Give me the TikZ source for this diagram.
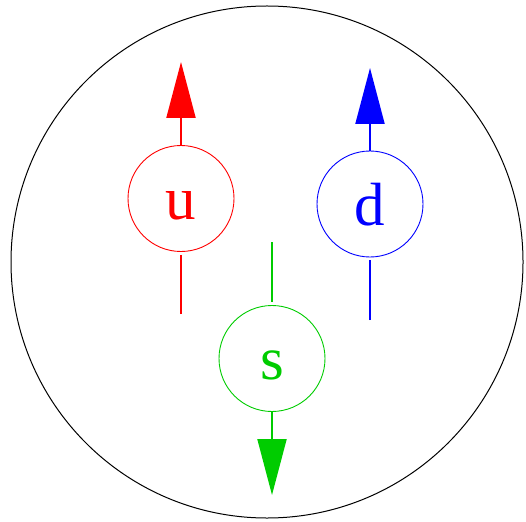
\documentclass[tikz,border=0pt]{standalone}
\usepackage{fontspec}
\setmainfont{Liberation Serif}
\usetikzlibrary{arrows.meta}

\definecolor{qgreen}{RGB}{0,204,0}

\begin{document}
\begin{tikzpicture}[
  x=1pt, y=-1pt,
  quark/.style={draw, circle, line width=0.9pt, minimum size=106pt,
               inner sep=0pt, text height=42pt, text depth=0pt,
               font=\fontsize{61}{64}\selectfont},
  spin/.style={line width=2pt,
               -{Triangle[length=56pt, width=29pt]}},
  tail/.style={line width=2pt, shorten >=3pt},
]
  \useasboundingbox (0,0) rectangle (526,521);

  % hadron
  \node[draw, circle, line width=1pt, minimum size=512pt] (hadron) at (267,262) {};

  \node[quark, red, text=red] (u) at (181,198.5) {u};
  \node[quark, blue, text=blue] (d) at (370,204) {d};
  \node[quark, qgreen, text=qgreen] (s) at (272,358.5) {s};

  \coordinate (utip) at (181,62);
  \coordinate (utail) at (181,314);
  \coordinate (dtip) at (370,68);
  \coordinate (dtail) at (370,320);
  \coordinate (stip) at (272,495);
  \coordinate (stail) at (272,242);

  \draw[spin, red] (u) -- (utip);
  \draw[tail, red] (utail) -- (u);
  \draw[spin, blue] (d) -- (dtip);
  \draw[tail, blue] (dtail) -- (d);
  \draw[spin, qgreen] (s) -- (stip);
  \draw[tail, qgreen] (stail) -- (s);
\end{tikzpicture}
\end{document}
